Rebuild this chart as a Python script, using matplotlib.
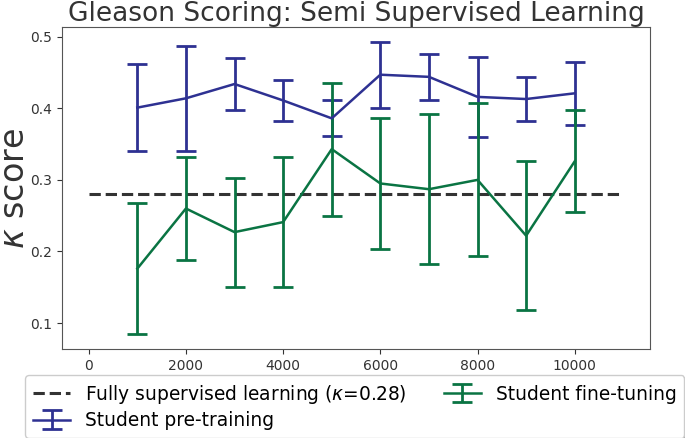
import matplotlib.pyplot as plt
import numpy as np

samples = [1000, 2000, 3000, 4000, 5000, 6000, 7000, 8000, 9000, 10000]
pre_mean = [0.401, 0.414, 0.434, 0.411, 0.386, 0.447, 0.444, 0.416, 0.413, 0.421]
pre_err = [0.061, 0.073, 0.037, 0.029, 0.025, 0.046, 0.032, 0.056, 0.031, 0.044]
fine_mean = [0.176, 0.260, 0.227, 0.241, 0.343, 0.295, 0.287, 0.300, 0.222, 0.326]
fine_err = [0.092, 0.072, 0.076, 0.091, 0.093, 0.092, 0.105, 0.107, 0.104, 0.071]
baseline_x = [0, 11000]
baseline = 0.28

blue = '#2e3192'
green = '#0a7443'

fig = plt.figure(figsize=(6.85, 4.38), dpi=100)
ax = fig.add_axes([0.0905, 0.203, 0.8585, 0.735])

ax.plot(baseline_x, [baseline, baseline], '--', color='#333333', lw=2.2,
        label='Fully supervised learning ($\\kappa$=0.28)')
ax.errorbar(samples, pre_mean, yerr=pre_err, color=blue, lw=1.8, elinewidth=2,
            capsize=7, capthick=2, label='Student pre-training')
ax.errorbar(samples, fine_mean, yerr=fine_err, color=green, lw=1.8, elinewidth=2,
            capsize=7, capthick=2, label='Student fine-tuning')

ax.set_xticks([0, 2000, 4000, 6000, 8000, 10000])
ax.set_yticks([0.1, 0.2, 0.3, 0.4, 0.5])
ax.tick_params(labelsize=10, colors='#333333')
for s in ax.spines.values():
    s.set_color('#555555')
ax.set_ylabel('$\\kappa$ score', fontsize=24, color='#333333')
ax.yaxis.set_label_coords(-0.052, 0.5)
ax.set_title('Gleason Scoring: Semi Supervised Learning', fontsize=19,
             color='#333333', pad=4)

ax.legend(loc='upper center', bbox_to_anchor=(0.498, -0.081), ncol=2,
          fontsize=13.4, shadow=True, fancybox=True, handlelength=2.0,
          borderpad=0.4, borderaxespad=0, columnspacing=2.0,
          labelspacing=0.3, handletextpad=0.8)

fig.savefig('out.png', dpi=100)
